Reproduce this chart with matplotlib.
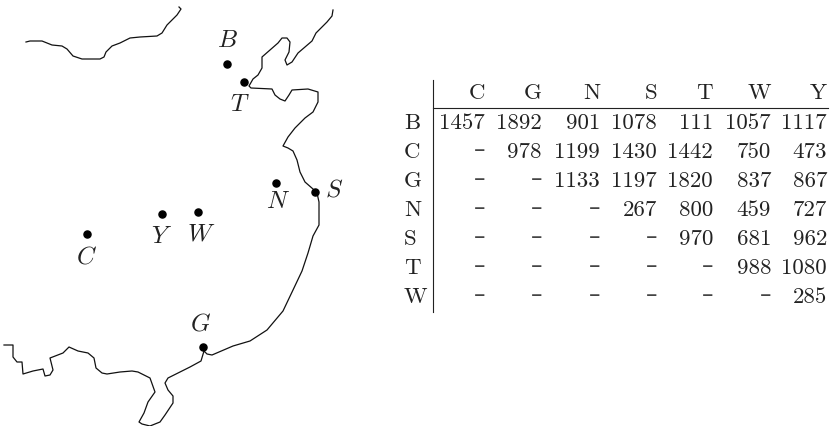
import matplotlib
matplotlib.use("Agg")
import matplotlib.pyplot as plt

plt.rcParams["font.family"] = ["cmr10", "DejaVu Sans"]
plt.rcParams["mathtext.fontset"] = "cm"

# Map traced in image pixels.
river_x = [26, 30, 42, 52, 62, 67, 73, 82, 100, 104, 106, 112, 120, 130, 140, 157, 162, 167, 177, 181, 179]
river_y = [42, 41, 41, 45, 46, 49, 56, 59, 59, 57, 52, 46, 43, 38, 37, 36, 33, 25, 15, 9, 7]

coast_x = [333, 332, 327, 322, 316, 312, 305, 298, 292, 287, 285, 289, 290, 287, 282, 278, 270, 262, 262, 258, 253,
           249, 251, 272, 275, 280, 285, 289, 292, 308, 318, 318, 313, 305, 295, 288, 283, 288, 293, 297, 300, 305,
           313, 317, 319, 319, 319, 313, 308, 302, 293, 283, 267, 250, 233, 212, 207, 204, 201, 190, 168, 165, 168,
           173, 173, 165, 160, 150, 142, 139, 144, 148, 155, 150, 138, 132, 120, 107, 102, 96, 94, 88, 78, 69, 63, 50,
           53, 50, 45, 43, 33, 23, 22, 17, 13, 13, 4]
coast_y = [10, 16, 22, 27, 33, 41, 47, 53, 62, 65, 60, 52, 42, 38, 38, 43, 50, 57, 68, 75, 79,
           86, 88, 89, 95, 99, 101, 95, 90, 89, 92, 102, 112, 118, 128, 137, 146, 148, 151, 160, 172, 182,
           189, 193, 202, 215, 225, 236, 253, 271, 290, 311, 330, 341, 346, 355, 354, 351, 361, 367, 378, 383, 390,
           396, 403, 415, 422, 426, 424, 422, 413, 402, 392, 378, 372, 371, 372, 374, 373, 368, 358, 353, 351, 347, 353, 358,
           370, 375, 376, 369, 371, 374, 362, 362, 357, 345, 345]

cities = ["B", "T", "N", "S", "Y", "W", "C", "G"]
city_x = [227, 244, 276, 315, 162, 198, 87, 203]
city_y = [63.5, 82, 183, 192, 214, 212, 234, 346.5]
label_x = [227, 240, 278, 334, 162, 201, 86, 201]
label_y = [41, 105, 202, 190, 237, 234, 257, 324]

# Distance table.
col_names = ["C", "G", "N", "S", "T", "W", "Y"]
row_names = ["B", "C", "G", "N", "S", "T", "W"]
distances = [
    [1457, 1892, 901, 1078, 111, 1057, 1117],
    [None, 978, 1199, 1430, 1442, 750, 473],
    [None, None, 1133, 1197, 1820, 837, 867],
    [None, None, None, 267, 800, 459, 727],
    [None, None, None, None, 970, 681, 962],
    [None, None, None, None, None, 988, 1080],
    [None, None, None, None, None, None, 285],
]

col_right = [485, 542, 600, 657, 713, 771, 827]
row_base = [129, 158, 187, 216, 245, 274, 303]

fig = plt.figure(figsize=(8.32, 4.26), dpi=100)
ax = fig.add_axes([0, 0, 1, 1])
ax.set_xlim(0, 832)
ax.set_ylim(426, 0)
ax.axis("off")

ax.plot(river_x, river_y, color="#111111", lw=0.9)
ax.plot(coast_x, coast_y, color="#111111", lw=0.9)
ax.scatter(city_x, city_y, s=26, color="black", zorder=3)
for name, x, y in zip(cities, label_x, label_y):
    ax.text(x, y, "$" + name + "$", fontsize=18, ha="center", va="center", color="#222222")

ax.plot([433, 433], [80, 312], color="#222222", lw=0.8)
ax.plot([433, 828], [108, 108], color="#222222", lw=0.8)

for name, x in zip(col_names, col_right):
    ax.text(x, 99, name, fontsize=16.5, ha="right", va="baseline", color="#222222")

for i, name in enumerate(row_names):
    ax.text(404, row_base[i], name, fontsize=16.5, ha="left", va="baseline", color="#222222")
    for j, val in enumerate(distances[i]):
        if val is None:
            ax.text(col_right[j], row_base[i] - 1, "–", fontsize=16.5, ha="right", va="baseline",
                    family="DejaVu Sans", color="#444444")
        else:
            ax.text(col_right[j], row_base[i], str(val), fontsize=16.5, ha="right", va="baseline", color="#222222")

fig.savefig("out.png", dpi=100)
